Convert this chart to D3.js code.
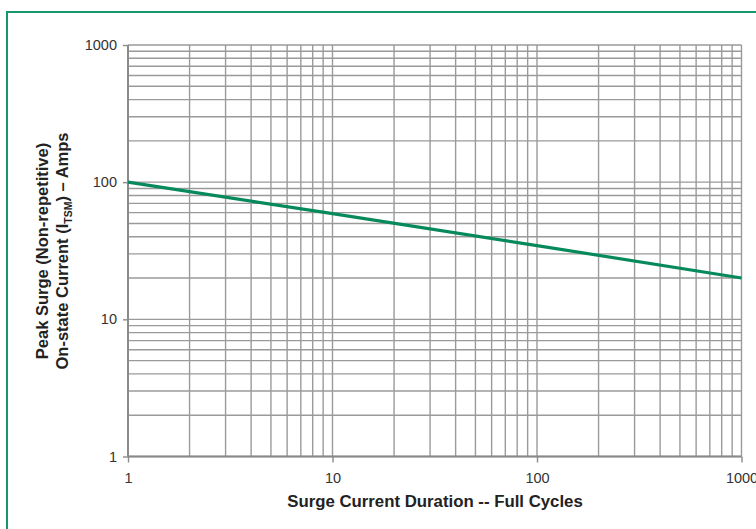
<!DOCTYPE html>
<html><head><meta charset="utf-8">
<script src="https://cdn.jsdelivr.net/npm/d3@7"></script>
<style>body{margin:0;background:#fff}svg{display:block}</style>
</head><body>
<svg id="c" width="756" height="529"></svg>
<script>
const cycles = [1, 10, 100, 1000];
const surgeAmps = [100, 59, 34.5, 20];
const xTicks = [1, 10, 100, 1000];
const yTicks = [1, 10, 100, 1000];
const xTitle = "Surge Current Duration -- Full Cycles";

const svg = d3.select("#c");
const font = "'Liberation Sans', Arial, Helvetica, sans-serif";
// frame
svg.append("rect").attr("x", 7).attr("y", 12).attr("width", 800).attr("height", 600)
  .attr("fill", "none").attr("stroke", "#17966a").attr("stroke-width", 2);

const L = 128, R = 741.5, T = 45, B = 456.5;
const x = d3.scaleLog().domain([1, 1000]).range([L, R]);
const y = d3.scaleLog().domain([1, 1000]).range([B, T]);

const minor = [];
for (let d = 1; d < 1000; d *= 10) for (let k = 1; k <= 10; k++) minor.push(d * k);
const uniq = Array.from(new Set(minor));

const g = svg.append("g");
g.selectAll(".vx").data(uniq).join("line")
  .attr("x1", d => x(d)).attr("x2", d => x(d)).attr("y1", T).attr("y2", B)
  .attr("stroke", "#9a9a9a").attr("stroke-width", 1.4);
g.selectAll(".hy").data(uniq).join("line")
  .attr("y1", d => y(d)).attr("y2", d => y(d)).attr("x1", L).attr("x2", R)
  .attr("stroke", "#9a9a9a").attr("stroke-width", 1.4);

// axes
const xa = svg.append("g").attr("transform", `translate(0,${B})`)
  .call(d3.axisBottom(x).tickValues(xTicks).tickFormat(d3.format("d")).tickSize(6).tickPadding(10));
const ya = svg.append("g").attr("transform", `translate(${L},0)`)
  .call(d3.axisLeft(y).tickValues(yTicks).tickFormat(d3.format("d")).tickSize(5).tickPadding(6));
[xa, ya].forEach(a => {
  a.attr("font-size", null).attr("font-family", null);
  a.select(".domain").attr("stroke", "#8a8a8a").attr("stroke-width", 2);
  a.selectAll(".tick line").attr("stroke", "#8a8a8a").attr("stroke-width", 1.4);
  a.selectAll("text").attr("font-family", font).attr("font-size", 14.5).attr("fill", "#333");
});
xa.select(".domain").attr("d", `M${L},0H${R}`);
ya.select(".domain").attr("d", `M0,${T}V${B}`);

// line
svg.append("path").datum(cycles.map((c, i) => [c, surgeAmps[i]]))
  .attr("d", d3.line().x(d => x(d[0])).y(d => y(d[1])))
  .attr("fill", "none").attr("stroke", "#078a5b").attr("stroke-width", 3.2);

// titles
svg.append("text").attr("x", 435).attr("y", 507).attr("text-anchor", "middle")
  .attr("font-family", font).attr("font-size", 16.8).attr("font-weight", "bold").attr("fill", "#222")
  .text(xTitle);

const yt = svg.append("text").attr("transform", "translate(0,251) rotate(-90)")
  .attr("text-anchor", "middle").attr("font-family", font).attr("font-size", 16.5)
  .attr("font-weight", "bold").attr("fill", "#222");
yt.append("tspan").attr("x", 0).attr("y", 48).text("Peak Surge (Non-repetitive)");
const l2 = yt.append("tspan").attr("x", 0).attr("y", 68);
l2.append("tspan").text("On-state Current (I");
l2.append("tspan").attr("font-size", 10.5).attr("dy", 3.5).text("TSM");
l2.append("tspan").attr("dy", -3.5).text(") – Amps");
</script>
</body></html>
